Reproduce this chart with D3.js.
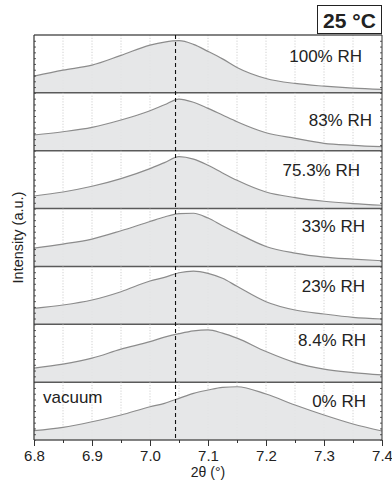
<!DOCTYPE html>
<html><head><meta charset="utf-8">
<script src="https://cdn.jsdelivr.net/npm/d3@7"></script>
<style>body{margin:0;background:#fff}svg{display:block;font-family:"Liberation Sans",Arial,Helvetica,sans-serif}</style>
</head><body><svg id="c" width="392" height="491"></svg>
<script>
// ---- data ----
const twoTheta = [6.8, 6.85, 6.9, 6.95, 7.0, 7.025, 7.05, 7.075, 7.1, 7.125, 7.15, 7.2, 7.25, 7.3, 7.35, 7.4];
const panelLabels = ["100% RH", "83% RH", "75.3% RH", "33% RH", "23% RH", "8.4% RH", "0% RH"];
const rh100 = [16.7, 22.7, 27.7, 37.5, 47.7, 50.8, 52.2, 48.5, 41.5, 34.0, 25.4, 14.4, 9.4, 6.7, 4.7, 3.4];
const rh83  = [15.7, 19.0, 23.4, 30.7, 40.0, 46.0, 51.7, 48.5, 42.4, 35.7, 29.0, 18.0, 12.4, 7.4, 5.4, 4.0];
const rh753 = [12.6, 16.6, 22.3, 30.0, 40.0, 46.0, 52.0, 49.5, 43.3, 35.6, 28.3, 16.6, 11.0, 7.3, 5.0, 3.3];
const rh33  = [18.4, 22.4, 27.4, 35.7, 45.0, 49.5, 52.8, 53.2, 48.4, 40.7, 33.4, 20.0, 13.4, 9.4, 7.4, 5.7];
const rh23  = [16.0, 19.3, 24.3, 32.6, 43.3, 47.0, 51.6, 53.3, 51.0, 46.0, 38.0, 22.6, 14.3, 10.3, 7.0, 5.3];
const rh84  = [14.0, 18.0, 24.0, 33.0, 40.5, 45.0, 48.5, 51.3, 52.3, 49.0, 44.0, 30.6, 19.6, 13.0, 9.6, 7.3];
const rh0   = [9.3, 12.7, 18.3, 25.0, 33.3, 36.7, 41.7, 46.7, 50.0, 52.7, 53.3, 46.0, 35.0, 25.0, 16.0, 9.0];
const seriesValues = [rh100, rh83, rh753, rh33, rh23, rh84, rh0];
const xTickValues = [6.8, 6.9, 7.0, 7.1, 7.2, 7.3, 7.4];
const xMinorValues = [6.85, 6.95, 7.05, 7.15, 7.25, 7.35];
const intensityMax = 57.9;
const refPeak = 7.044;
const tempLabel = "25 °C";
const vacuumLabel = "vacuum";
const xTitle = "2θ (°)";
const yTitle = "Intensity (a.u.)";

// ---- layout (not data) ----
const L = 34, R = 382, T = 35, B = 440;
const labelLayout = [[362, 27], [372, 33], [360, 25], [365, 23.4], [365, 26], [366, 22], [366, 24.4]];

const svg = d3.select("#c");
const x = d3.scaleLinear().domain([6.8, 7.4]).range([L, R]);
const band = d3.scaleBand().domain(panelLabels).range([T, B]).padding(0);

const fillCol = "#e3e4e6", lineCol = "#8c8c8c", frameCol = "#5a5a5a";

panelLabels.forEach((lab, i) => {
  const top = band(lab), bot = top + band.bandwidth();
  const y = d3.scaleLinear().domain([0, intensityMax]).range([bot, top]);
  const g = svg.append("g");
  // gridlines
  g.selectAll("line.grid").data(xMinorValues.concat(xTickValues.slice(1, -1))).enter().append("line")
    .attr("x1", d => x(d)).attr("x2", d => x(d)).attr("y1", top).attr("y2", bot)
    .attr("stroke", "#c4c4c4").attr("stroke-width", 0.8).attr("stroke-dasharray", "1.2,1.6");
  const pts = twoTheta.map((t, k) => [t, seriesValues[i][k]]);
  const area = d3.area().x(d => x(d[0])).y0(bot).y1(d => y(d[1])).curve(d3.curveMonotoneX);
  const line = d3.line().x(d => x(d[0])).y(d => y(d[1])).curve(d3.curveMonotoneX);
  g.append("path").attr("d", area(pts)).attr("fill", fillCol).attr("fill-opacity", 0.9);
  g.append("path").attr("d", line(pts)).attr("fill", "none").attr("stroke", lineCol).attr("stroke-width", 1.2);
  // inner y ticks
  const yt = d3.range(0, 10).map(k => k * intensityMax / 10);
  g.append("g").attr("transform", `translate(${L},0)`)
    .call(d3.axisRight(y).tickValues(yt).tickSize(2).tickFormat(""))
    .call(s => s.select(".domain").remove())
    .selectAll("line").attr("stroke", "#333").attr("stroke-width", 0.8);
  g.append("g").attr("transform", `translate(${R},0)`)
    .call(d3.axisLeft(y).tickValues(yt).tickSize(2).tickFormat(""))
    .call(s => s.select(".domain").remove())
    .selectAll("line").attr("stroke", "#333").attr("stroke-width", 0.8);
  // label
  svg.append("text").attr("x", labelLayout[i][0]).attr("y", top + labelLayout[i][1])
    .attr("text-anchor", "end").attr("font-size", 17).attr("fill", "#222").text(lab);
  // separator
  svg.append("line").attr("x1", L).attr("x2", R).attr("y1", bot).attr("y2", bot)
    .attr("stroke", frameCol).attr("stroke-width", 1.5);
});

// top border
svg.append("line").attr("x1", L).attr("x2", R).attr("y1", T).attr("y2", T)
  .attr("stroke", frameCol).attr("stroke-width", 1.5);
// side borders
svg.append("line").attr("x1", L).attr("x2", L).attr("y1", T).attr("y2", B).attr("stroke", "#333").attr("stroke-width", 1.2);
svg.append("line").attr("x1", R).attr("x2", R).attr("y1", T).attr("y2", B).attr("stroke", "#333").attr("stroke-width", 1);

// dashed reference line
svg.append("line").attr("x1", x(refPeak)).attr("x2", x(refPeak)).attr("y1", T).attr("y2", B)
  .attr("stroke", "#111").attr("stroke-width", 1.1).attr("stroke-dasharray", "4,3");

// x axis
const xa = svg.append("g").attr("transform", `translate(0,${B})`)
  .call(d3.axisBottom(x).tickValues(xTickValues).tickSize(6).tickPadding(4).tickFormat(d3.format(".1f")));
xa.select(".domain").remove();
xa.selectAll("line").attr("stroke", "#333");
xa.selectAll("text").attr("font-size", 15).attr("fill", "#222").attr("font-family", "Liberation Sans, Arial, sans-serif");
const xm = svg.append("g").attr("transform", `translate(0,${B})`)
  .call(d3.axisBottom(x).tickValues(xMinorValues).tickSize(3).tickFormat(""));
xm.select(".domain").remove();
xm.selectAll("line").attr("stroke", "#333");

svg.append("text").attr("x", (L + R) / 2).attr("y", 477).attr("text-anchor", "middle")
  .attr("font-size", 14).attr("fill", "#222").text(xTitle);
svg.append("text").attr("transform", `translate(22.5,${(T + B) / 2}) rotate(-90)`)
  .attr("text-anchor", "middle").attr("font-size", 14.5).attr("fill", "#222").text(yTitle);

// vacuum label
svg.append("text").attr("x", 43).attr("y", band(panelLabels[6]) + 20.4)
  .attr("font-size", 17).attr("fill", "#222").text(vacuumLabel);

// temperature box
svg.append("rect").attr("x", 317.5).attr("y", 5.5).attr("width", 64).attr("height", 28)
  .attr("fill", "#fff").attr("stroke", "#222").attr("stroke-width", 1);
svg.append("text").attr("x", 349.5).attr("y", 27.5).attr("text-anchor", "middle")
  .attr("font-size", 21).attr("font-weight", "bold").attr("fill", "#222").text(tempLabel);
</script></body></html>
